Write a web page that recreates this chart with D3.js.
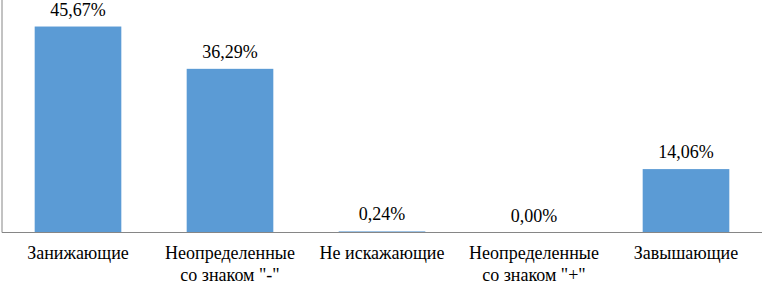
<!DOCTYPE html>
<html><head><meta charset="utf-8">
<script src="https://cdn.jsdelivr.net/npm/d3@7"></script>
</head><body style="margin:0">
<svg id="c" width="762" height="284" font-family="Liberation Serif" style="display:block;font-family:'Liberation Serif'"></svg>
<script>
const categories = [["Занижающие"], ["Неопределенные", "со знаком \"-\""], ["Не искажающие"], ["Неопределенные", "со знаком \"+\""], ["Завышающие"]];
const values = [45.67, 36.29, 0.24, 0.00, 14.06];
const valueLabels = ["45,67%", "36,29%", "0,24%", "0,00%", "14,06%"];

const svg = d3.select("#c");
const x0 = 2, x1 = 762, yBase = 232.5;
const x = d3.scaleBand().domain(d3.range(values.length)).range([x0, x1]).paddingInner(0.43).paddingOuter(0.215);
const y = d3.scaleLinear().domain([0, 50]).range([yBase, yBase - 225.5]);

svg.selectAll("rect.bar").data(values).join("rect")
  .attr("x", (d, i) => x(i)).attr("width", x.bandwidth())
  .attr("y", d => y(d)).attr("height", d => yBase - y(d))
  .attr("fill", "#5b9bd5");

svg.append("line").attr("x1", x0).attr("x2", x1).attr("y1", yBase).attr("y2", yBase).attr("stroke", "#868686").attr("stroke-width", 1);
svg.append("line").attr("x1", x0).attr("x2", x0).attr("y1", 0).attr("y2", yBase).attr("stroke", "#868686").attr("stroke-width", 1);

svg.append("g").selectAll("text").data(values).join("text")
  .attr("x", (d, i) => x(i) + x.bandwidth() / 2)
  .attr("y", d => y(d) - 11)
  .attr("text-anchor", "middle")
  .attr("font-family", "Liberation Serif")
  .style("font-family", '"Liberation Serif"')
  .attr("font-size", 18)
  .text((d, i) => valueLabels[i]);

const cat = svg.append("g").selectAll("text").data(categories).join("text")
  .attr("text-anchor", "middle")
  .attr("font-family", "Liberation Serif")
  .style("font-family", '"Liberation Serif"')
  .attr("font-size", 18);
cat.each(function(lines, i) {
  d3.select(this).selectAll("tspan").data(lines).join("tspan")
    .attr("x", x(i) + x.bandwidth() / 2)
    .attr("y", (l, j) => 259 + j * 22)
    .style("font-family", '"Liberation Serif"')
    .text(l => l);
});
</script>
</body></html>
